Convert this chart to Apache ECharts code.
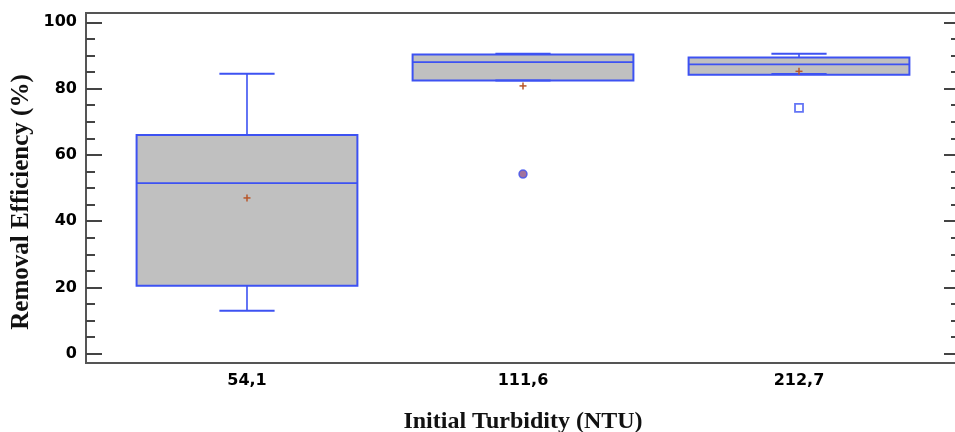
<!DOCTYPE html>
<html>
<head>
<meta charset="utf-8">
<script src="https://cdn.jsdelivr.net/npm/echarts@6/dist/echarts.min.js"></script>
<style>html,body{margin:0;padding:0;background:#fff}#c{width:955px;height:432px}</style>
</head>
<body>
<div id="c"></div>
<script>
// ---- data ----
const categories = ['54,1', '111,6', '212,7'];
const whiskerLow  = [13.0, 82.4, 84.4];
const q1          = [20.5, 82.4, 84.2];
const median      = [51.5, 88.0, 87.3];
const q3          = [66.0, 90.3, 89.4];
const whiskerHigh = [84.5, 90.5, 90.5];
const mean        = [47.0, 80.8, 85.2];
const outliersCircle = [[2, 54.2]];
const outliersSquare = [[3, 74.2]];
const yMajorTicks = [0, 20, 40, 60, 80, 100];
const yMinorTicks = [5, 10, 15, 25, 30, 35, 45, 50, 55, 65, 70, 75, 85, 90, 95];
const xTitle = 'Initial Turbidity (NTU)';
const yTitle = 'Removal Efficiency (%)';

const boxData = categories.map((c, i) => [i + 1, whiskerLow[i], q1[i], median[i], q3[i], whiskerHigh[i], mean[i]]);

const BLUE = '#3d52f2';
const AXIS = '#444';
const labelFont = { fontFamily: 'DejaVu Sans', fontWeight: 'bold', fontSize: 16, color: '#000' };

function renderBox(params, api) {
  const x = api.value(0);
  const band = api.size([1, 0])[0];
  const bw = band * 0.8, cw = band * 0.2;
  const P = k => api.coord([x, api.value(k)]);
  const lo = P(1), b1 = P(2), md = P(3), b3 = P(4), hi = P(5), mn = P(6);
  const cx = lo[0];
  const lineStyle = { stroke: BLUE, lineWidth: 1.6 };
  const children = [
    { type: 'rect', shape: { x: cx - bw / 2, y: b3[1], width: bw, height: b1[1] - b3[1] },
      style: { fill: '#c0c0c0', stroke: BLUE, lineWidth: 2 } },
    { type: 'line', shape: { x1: cx, y1: hi[1], x2: cx, y2: b3[1] }, style: lineStyle },
    { type: 'line', shape: { x1: cx, y1: lo[1], x2: cx, y2: b1[1] }, style: lineStyle },
    { type: 'line', shape: { x1: cx - cw / 2, y1: hi[1], x2: cx + cw / 2, y2: hi[1] }, style: { stroke: BLUE, lineWidth: 2 } },
    { type: 'line', shape: { x1: cx - cw / 2, y1: lo[1], x2: cx + cw / 2, y2: lo[1] }, style: { stroke: BLUE, lineWidth: 2 } },
    { type: 'line', shape: { x1: cx - bw / 2, y1: md[1], x2: cx + bw / 2, y2: md[1] }, style: { stroke: BLUE, lineWidth: 1.8 } },
    { type: 'line', shape: { x1: cx - 3.5, y1: mn[1], x2: cx + 3.5, y2: mn[1] }, style: { stroke: '#b8562a', lineWidth: 1.5 } },
    { type: 'line', shape: { x1: cx, y1: mn[1] - 3.5, x2: cx, y2: mn[1] + 3.5 }, style: { stroke: '#b8562a', lineWidth: 1.5 } }
  ];
  return { type: 'group', children };
}

const yBase = { type: 'value', min: -2.8, max: 102.8, splitLine: { show: false } };

const chart = echarts.init(document.getElementById('c'), null, { renderer: 'canvas' });
chart.setOption({
  animation: false,
  backgroundColor: '#fff',
  grid: { left: 86, right: -5, top: 13, bottom: 69, show: true, borderColor: '#555', borderWidth: 2,
          containLabel: false, outerBoundsMode: 'none' },
  xAxis: {
    type: 'value', min: 0.4167, max: 3.5833,
    splitLine: { show: false },
    axisLine: { show: true, onZero: false, lineStyle: { color: '#555', width: 2 } },
    axisTick: { show: false },
    axisLabel: { ...labelFont, margin: 10, customValues: [1, 2, 3], formatter: v => categories[Math.round(v) - 1] || '' },
    name: xTitle, nameLocation: 'middle', nameGap: 47,
    nameTextStyle: { fontFamily: 'Liberation Serif', fontWeight: 'bold', fontSize: 24, color: '#111' }
  },
  yAxis: [
    { ...yBase, position: 'left',
      axisLine: { show: true, onZero: false, lineStyle: { color: '#555', width: 2 } },
      axisTick: { show: true, inside: true, length: 16, lineStyle: { color: AXIS, width: 2 }, customValues: yMajorTicks },
      axisLabel: { ...labelFont, margin: 9, customValues: yMajorTicks } },
    { ...yBase, position: 'left',
      axisLine: { show: false, onZero: false },
      axisTick: { show: true, inside: true, length: 9, lineStyle: { color: AXIS, width: 2 }, customValues: yMinorTicks },
      axisLabel: { show: false } },
    { ...yBase, position: 'right',
      axisLine: { show: true, onZero: false, lineStyle: { color: '#555', width: 2 } },
      axisTick: { show: true, inside: true, length: 16, lineStyle: { color: AXIS, width: 2 }, customValues: yMajorTicks },
      axisLabel: { show: false } },
    { ...yBase, position: 'right',
      axisLine: { show: false, onZero: false },
      axisTick: { show: true, inside: true, length: 9, lineStyle: { color: AXIS, width: 2 }, customValues: yMinorTicks },
      axisLabel: { show: false } }
  ],
  graphic: [{
    type: 'text', x: 22, y: 202, rotation: Math.PI / 2,
    style: { text: yTitle, fontFamily: 'Liberation Serif', fontWeight: 'bold', fontSize: 25, fill: '#111',
             align: 'center', verticalAlign: 'middle' }
  }],
  series: [
    { type: 'custom', renderItem: renderBox, data: boxData, encode: { x: 0, y: [1, 2, 3, 4, 5, 6] }, z: 2 },
    { type: 'scatter', data: outliersCircle, symbol: 'circle', symbolSize: 8,
      itemStyle: { color: '#8a4f86', borderColor: BLUE, borderWidth: 1.5 }, z: 3 },
    { type: 'scatter', data: outliersSquare, symbol: 'rect', symbolSize: 8,
      itemStyle: { color: '#fff', borderColor: BLUE, borderWidth: 1.8 }, z: 3 }
  ]
});
</script>
</body>
</html>
